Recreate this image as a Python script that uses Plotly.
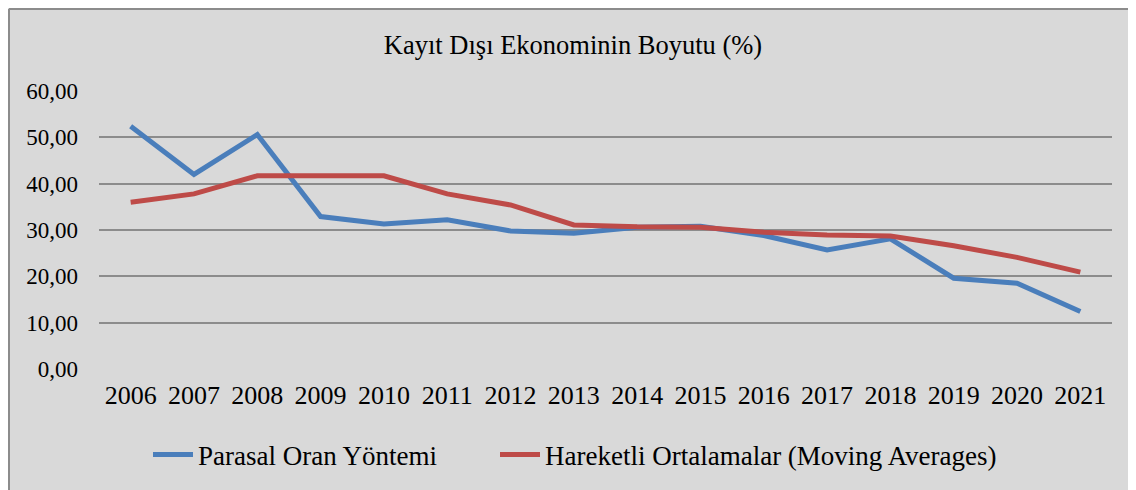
import plotly.graph_objects as go

years = ["2006", "2007", "2008", "2009", "2010", "2011", "2012", "2013",
         "2014", "2015", "2016", "2017", "2018", "2019", "2020", "2021"]
parasal = [52.4, 42.0, 50.6, 32.9, 31.3, 32.2, 29.8, 29.3,
           30.6, 30.8, 28.8, 25.7, 28.1, 19.6, 18.5, 12.4]
hareketli = [36.0, 37.8, 41.7, 41.8, 41.7, 37.8, 35.4, 31.1,
             30.7, 30.6, 29.5, 28.9, 28.7, 26.6, 24.1, 20.9]
y_ticks = [0, 10, 20, 30, 40, 50, 60]
y_labels = ["0,00", "10,00", "20,00", "30,00", "40,00", "50,00", "60,00"]

FONT = "Liberation Serif"

L, T, PW, PH = 91, 83, 1013, 278
R = 1136 - L - PW
B = 490 - T - PH

fig = go.Figure()
fig.add_trace(go.Scatter(x=years, y=parasal, mode="lines",
                         name="Parasal Oran Yöntemi", legendwidth=292,
                         line=dict(color="#4a7ebb", width=5)))
fig.add_trace(go.Scatter(x=years, y=hareketli, mode="lines",
                         name="Hareketli Ortalamalar (Moving Averages)",
                         line=dict(color="#be4b48", width=5)))

fig.update_layout(
    width=1136, height=490,
    margin=dict(l=L, r=R, t=T, b=B, autoexpand=False),
    paper_bgcolor="#d9d9d9",
    plot_bgcolor="#d9d9d9",
    font=dict(family=FONT, color="#000000", size=26),
    title=dict(text="Kayıt Dışı Ekonominin Boyutu (%)",
               x=(573 - 8) / 1136, xanchor="center", xref="container",
               y=1 - (45 - 8) / 490, yanchor="middle", yref="container",
               font=dict(family=FONT, size=26.5, color="#000000")),
    showlegend=True,
    legend=dict(orientation="h", x=(148 - 8) / 1136, xanchor="left", xref="container",
                y=1 - (455 - 8) / 490, yanchor="middle", yref="container",
                font=dict(family=FONT, size=27), bgcolor="rgba(0,0,0,0)",
                itemwidth=40),
    xaxis=dict(type="category", range=[-0.5, 15.5], automargin=False,
               showgrid=False, showline=False, zeroline=False,
               ticks="", tickfont=dict(family=FONT, size=26),
               ticklabelstandoff=8),
    yaxis=dict(range=[0, 60], tickvals=y_ticks, ticktext=y_labels,
               automargin=False,
               showgrid=True, gridcolor="#8c8c8c", gridwidth=1.5,
               zeroline=False, showline=False, ticks="",
               tickfont=dict(family=FONT, size=23),
               ticklabelstandoff=20),
    shapes=[
        dict(type="line", xref="paper", yref="paper",
             x0=(1 - L) / PW, x1=(1 - L) / PW,
             y0=(490 - 1 - B) / PH, y1=-B / PH,
             line=dict(color="#8c8c8c", width=2)),
        dict(type="line", xref="paper", yref="paper",
             x0=(1 - L) / PW, x1=(1136 - L) / PW,
             y0=(490 - 1 - B) / PH, y1=(490 - 1 - B) / PH,
             line=dict(color="#8c8c8c", width=2)),
    ],
)

fig.write_html("out.html")
